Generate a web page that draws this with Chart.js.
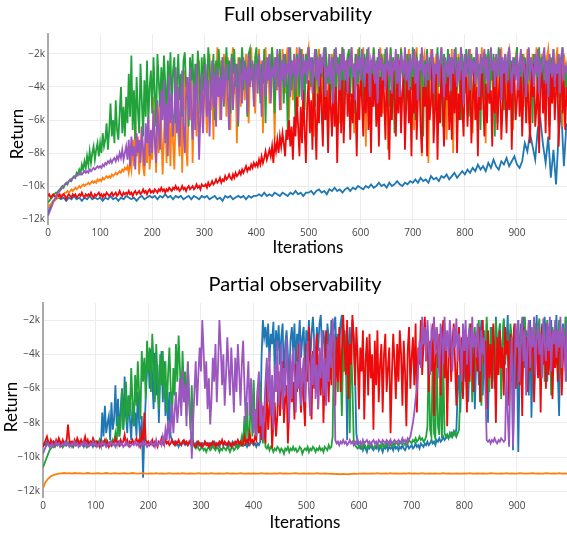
<!DOCTYPE html>
<html><head><meta charset="utf-8">
<script src="https://cdn.jsdelivr.net/npm/chart.js@4.4.1/dist/chart.umd.min.js"></script>
<style>
html,body{margin:0;padding:0;background:#fff;}
#wrap{width:567px;height:533px;position:relative;overflow:hidden;background:#fff}
.box{position:absolute;left:0;width:567px}
canvas{display:block}
</style></head><body>
<div id="wrap">
<div class="box" style="top:0;height:266px"><canvas id="c1" width="567" height="266"></canvas></div>
<div class="box" style="top:266px;height:267px"><canvas id="c2" width="567" height="267"></canvas></div>
</div>
<script>
// sample positions (iterations): smooth curves every 5, noisy curves every 2.5
const iterationsCoarse = Array.from({length: 200}, (_, i) => i * 5);
const iterationsFine = Array.from({length: 400}, (_, i) => i * 2.5);
const xTickValues = [0, 100, 200, 300, 400, 500, 600, 700, 800, 900];
const yTickValues = [-12, -10, -8, -6, -4, -2];
const seriesNames = ['blue', 'orange', 'green', 'red', 'purple'];
const seriesColors = ['#1f77b4', '#ff7f0e', '#22a23a', '#ee0a0a', '#9b56bf'];

// ---------- Full observability (returns in thousands) ----------
const topBlue = [
-11.7,-11.2,-10.9,-10.8,-10.7,-10.8,-10.7,-10.9,-10.7,-10.8,-10.6,-10.8,-10.7,-10.9,-10.7,-10.8,-10.6,-10.8,-10.7,-10.8,
-10.7,-10.9,-10.7,-10.8,-10.6,-10.8,-10.7,-10.9,-10.7,-10.8,-10.6,-10.7,-10.8,-10.7,-10.9,-10.7,-10.6,-10.8,-10.7,-10.6,
-10.7,-10.6,-10.8,-10.6,-10.7,-10.5,-10.7,-10.6,-10.8,-10.6,-10.7,-10.6,-10.8,-10.7,-10.6,-10.8,-10.6,-10.7,-10.8,-10.6,
-10.7,-10.6,-10.8,-10.7,-10.6,-10.8,-10.7,-10.9,-10.6,-10.7,-10.6,-10.8,-10.7,-10.6,-10.7,-10.6,-10.8,-10.6,-10.7,-10.6,
-10.6,-10.5,-10.6,-10.4,-10.6,-10.5,-10.6,-10.4,-10.5,-10.6,-10.4,-10.5,-10.6,-10.4,-10.5,-10.3,-10.5,-10.4,-10.6,-10.4,
-10.4,-10.3,-10.5,-10.3,-10.2,-10.4,-10.3,-10.5,-10.2,-10.3,-10.1,-10.3,-10.2,-10.4,-10.2,-10.1,-10.3,-10.1,-10.2,-10.0,
-10.1,-10.2,-10.0,-10.1,-9.9,-10.1,-10.0,-9.8,-10.0,-9.9,-10.1,-9.8,-10.0,-9.9,-9.7,-9.9,-10.0,-9.8,-9.9,-9.7,
-9.8,-9.6,-9.8,-9.5,-9.7,-9.6,-9.8,-9.4,-9.6,-9.5,-9.7,-9.4,-9.5,-9.3,-9.6,-9.4,-9.2,-9.5,-9.3,-9.1,
-9.3,-9.0,-9.2,-8.9,-9.1,-8.7,-9.0,-8.8,-9.1,-8.6,-8.9,-8.4,-8.8,-9.0,-8.5,-8.7,-8.3,-8.8,-8.5,-8.2,
-8.7,-8.9,-8.5,-7.4,-7.9,-6.8,-7.6,-8.4,-6.5,-6.0,-7.5,-8.6,-7.0,-9.5,-7.8,-9.9,-6.8,-5.4,-8.8,-6.2
];
const topOrange = [
-11.3,-11.2,-11.1,-11.0,-10.9,-10.9,-10.8,-10.7,-10.7,-10.6,
-10.6,-10.5,-10.5,-10.4,-10.4,-10.3,-10.4,-10.3,-10.2,-10.3,
-10.2,-10.1,-10.2,-10.1,-10.0,-10.1,-10.0,-9.9,-10.0,-9.9,
-9.9,-9.8,-9.9,-9.8,-9.7,-9.8,-9.7,-9.8,-9.6,-9.7,
-9.6,-9.7,-9.5,-9.6,-9.5,-9.4,-9.5,-9.4,-9.5,-9.3,
-9.4,-9.3,-9.2,-9.3,-9.2,-9.1,-9.2,-9.0,-9.1,-8.9,
-9.0,-8.8,-9.2,-8.5,-9.0,-7.2,-8.8,-5.9,-8.2,-7.0,
-9.3,-8.0,-6.4,-8.8,-9.4,-7.4,-8.6,-6.0,-9.0,-7.8,
-8.4,-4.6,-7.2,-9.2,-5.8,-8.0,-4.2,-6.6,-9.3,-7.0,
-5.0,-8.6,-3.6,-6.2,-8.8,-4.8,-7.4,-9.0,-5.4,-3.4,
-6.8,-8.2,-4.0,-9.2,-5.6,-3.0,-7.6,-8.8,-4.4,-6.0,
-2.6,-8.6,-5.2,-3.4,-7.0,-4.6,-2.4,-6.4,-3.8,-5.6,
-2.2,-4.8,-6.8,-3.2,-2.0,-5.4,-3.6,-7.2,-2.6,-4.2,
-1.6,-3.4,-6.0,-2.4,-4.6,-2.0,-3.0,-5.8,-2.2,-3.8,
-6.6,-2.4,-1.6,-4.4,-3.0,-7.4,-2.2,-3.6,-5.2,-1.7,
-3.2,-4.8,-2.0,-2.8,-6.2,-3.4,-1.6,-4.0,-2.6,-5.6,
-2.2,-3.6,-1.7,-4.6,-2.4,-6.8,-3.0,-1.6,-3.8,-2.2,
-5.0,-2.6,-1.6,-3.4,-7.2,-2.2,-4.2,-2.0,-3.0,-5.4,
-1.7,-2.8,-4.4,-2.2,-1.6,-6.0,-3.2,-2.4,-4.8,-2.0,
-3.6,-1.6,-5.2,-2.6,-3.0,-1.7,-6.4,-2.4,-3.8,-2.0,
-1.6,-4.2,-2.4,-3.0,-7.0,-2.0,-2.8,-4.6,-1.7,-3.4,
-2.2,-5.8,-2.6,-1.6,-3.6,-7.4,-2.4,-4.0,-2.0,-3.2,
-1.7,-4.8,-2.8,-2.2,-6.2,-3.0,-1.6,-4.4,-2.6,-3.6,
-2.0,-5.4,-2.4,-1.6,-3.2,-6.8,-2.2,-4.0,-1.7,-3.0,
-2.6,-4.6,-1.6,-3.4,-7.6,-2.4,-2.0,-5.0,-2.8,-3.8,
-1.7,-3.2,-6.0,-2.2,-4.2,-1.6,-2.6,-5.6,-2.0,-3.4,
-2.4,-7.8,-3.0,-1.7,-4.4,-2.2,-3.6,-6.4,-2.0,-2.8,
-4.8,-1.6,-3.2,-2.4,-5.8,-2.0,-3.8,-1.7,-4.6,-2.6,
-3.0,-6.6,-2.2,-1.6,-4.0,-2.8,-3.4,-8.2,-2.4,-2.0,
-4.4,-2.6,-8.6,-3.2,-1.7,-5.2,-2.2,-3.6,-2.0,-6.0,
-2.4,-3.0,-1.6,-4.8,-2.6,-3.4,-7.2,-2.0,-2.8,-4.2,
-1.7,-8.0,-3.0,-2.4,-5.0,-2.0,-3.6,-1.6,-4.6,-2.6,
-3.2,-2.0,-5.8,-2.4,-1.7,-3.8,-6.8,-2.2,-3.0,-4.4,
-2.0,-2.8,-5.4,-1.6,-3.4,-2.4,-7.4,-2.2,-4.0,-2.6,
-1.7,-3.6,-5.0,-2.2,-2.8,-6.2,-2.0,-3.4,-1.6,-4.8,
-2.4,-3.0,-5.6,-2.0,-1.7,-4.2,-2.6,-6.6,-3.2,-2.2,
-1.6,-4.4,-2.4,-3.0,-5.8,-2.0,-2.6,-3.6,-1.7,-6.2,
-2.2,-3.4,-2.0,-4.6,-2.8,-1.6,-5.4,-2.4,-3.2,-2.0,
-4.0,-2.6,-6.0,-2.2,-1.7,-3.4,-2.8,-5.0,-2.0,-3.6,
-2.4,-1.6,-4.6,-2.2,-3.0,-6.4,-2.0,-2.6,-3.8,-2.2
];
const topGreen = [
-11.0,-10.9,-10.8,-10.7,-10.6,-10.5,-10.4,-10.4,-10.3,-10.2,
-10.1,-10.0,-10.1,-9.9,-9.8,-9.9,-9.7,-9.6,-9.7,-9.5,
-9.4,-9.5,-9.2,-9.3,-9.0,-9.2,-8.7,-9.0,-8.5,-8.9,
-8.2,-8.7,-7.9,-8.6,-8.0,-7.6,-8.4,-7.8,-7.4,-8.2,
-7.4,-8.0,-6.8,-7.6,-7.2,-6.2,-7.8,-6.6,-5.0,-7.0,
-6.0,-7.4,-4.8,-6.6,-7.2,-5.6,-4.0,-6.8,-5.2,-7.0,
-4.6,-6.2,-3.2,-5.8,-2.1,-6.6,-4.2,-7.2,-3.4,-5.4,
-6.8,-2.6,-4.8,-7.0,-3.6,-5.8,-2.4,-6.2,-4.0,-3.0,
-5.6,-2.2,-4.4,-6.4,-2.0,-3.6,-5.2,-2.8,-4.6,-2.1,
-3.8,-6.0,-2.4,-4.2,-1.9,-5.4,-3.0,-2.2,-6.2,-3.6,
-2.0,-4.8,-3.2,-5.8,-2.4,-1.9,-4.0,-3.4,-6.4,-2.2,
-3.6,-2.0,-5.2,-2.6,-4.4,-1.8,-3.0,-5.6,-2.2,-4.2,
-2.0,-3.2,-5.0,-1.6,-2.6,-4.6,-3.4,-2.0,-6.0,-2.4,
-3.8,-1.7,-2.8,-4.4,-2.2,-5.2,-3.0,-1.6,-3.6,-2.4,
-5.6,-2.0,-3.2,-1.7,-4.0,-2.6,-6.4,-2.2,-3.4,-1.6,
-4.2,-2.4,-3.0,-5.8,-2.0,-1.7,-3.6,-2.6,-4.8,-2.2,
-1.6,-3.4,-2.2,-5.0,-2.6,-3.8,-1.7,-6.2,-2.4,-3.0,
-2.0,-4.4,-1.6,-3.2,-5.6,-2.2,-2.8,-4.0,-1.7,-3.6,
-2.4,-5.0,-2.0,-3.0,-6.6,-2.2,-1.6,-4.2,-2.6,-3.4,
-6.5,-2.0,-2.8,-4.6,-1.7,-3.2,-2.4,-5.4,-2.0,-3.6,
-1.6,-2.6,-4.0,-2.2,-3.2,-5.2,-1.7,-2.8,-4.4,-2.0,
-3.4,-2.2,-6.0,-1.6,-2.6,-3.8,-2.0,-4.8,-2.4,-3.0,
-1.7,-5.4,-2.2,-3.2,-2.0,-4.2,-1.6,-6.6,-2.6,-3.4,
-2.2,-1.7,-4.6,-2.4,-3.0,-5.6,-2.0,-2.8,-3.8,-1.6,
-3.2,-2.2,-5.0,-2.0,-4.0,-1.7,-2.6,-6.2,-2.4,-3.6,
-1.6,-2.8,-4.4,-2.2,-3.4,-5.8,-2.0,-2.6,-4.0,-1.7,
-3.0,-2.4,-5.2,-1.6,-3.6,-2.2,-6.8,-2.6,-3.2,-2.0,
-4.6,-1.7,-2.8,-3.8,-2.2,-5.4,-2.0,-3.0,-2.4,-4.2,
-1.6,-3.4,-6.0,-2.2,-2.6,-4.4,-2.0,-3.2,-7.0,-2.4,
-3.0,-1.7,-4.8,-2.2,-3.6,-2.0,-5.6,-2.6,-3.2,-1.6,
-4.0,-2.4,-3.0,-6.4,-2.0,-2.8,-4.6,-1.7,-3.4,-2.2,
-5.2,-2.6,-3.0,-1.6,-4.2,-2.2,-3.6,-6.0,-2.0,-2.8,
-4.4,-1.7,-3.2,-2.4,-5.8,-2.0,-3.0,-2.2,-4.0,-1.6,
-3.4,-2.6,-6.6,-2.2,-2.8,-4.8,-2.0,-3.2,-1.7,-5.0,
-2.4,-3.6,-2.0,-7.0,-2.6,-3.0,-1.6,-4.2,-2.2,-3.4,
-5.4,-2.0,-2.8,-4.0,-1.7,-3.2,-2.4,-6.0,-2.2,-3.0,
-1.6,-4.6,-2.6,-3.4,-2.0,-5.2,-2.2,-2.8,-4.0,-1.7,
-3.6,-2.4,-6.2,-2.0,-3.0,-2.6,-4.4,-1.6,-3.2,-2.2,
-5.0,-2.0,-2.8,-3.8,-2.4,-6.4,-2.2,-3.0,-1.7,-4.2,
-2.6,-3.4,-2.0,-5.6,-2.2,-1.6,-3.6,-2.8,-4.6,-2.4
];
const topRed = [
-10.6,-10.5,-10.7,-10.6,-10.5,-10.6,-10.7,-10.5,-10.6,-10.5,
-10.7,-10.6,-10.5,-10.6,-10.8,-10.6,-10.5,-10.6,-10.7,-10.5,
-10.6,-10.5,-10.7,-10.6,-10.5,-10.6,-10.4,-10.6,-10.7,-10.5,
-10.6,-10.5,-10.6,-10.4,-10.6,-10.7,-10.5,-10.6,-10.5,-10.4,
-10.6,-10.5,-10.7,-10.5,-10.6,-10.4,-10.5,-10.6,-10.5,-10.4,
-10.6,-10.5,-10.4,-10.6,-10.5,-10.3,-10.5,-10.6,-10.4,-10.5,
-10.4,-10.5,-10.3,-10.5,-10.4,-10.6,-10.4,-10.3,-10.5,-10.4,
-10.3,-10.5,-10.4,-10.2,-10.4,-10.3,-10.5,-10.3,-10.2,-10.4,
-10.3,-10.4,-10.2,-10.3,-10.4,-10.2,-10.3,-10.1,-10.3,-10.2,
-10.4,-10.2,-10.3,-10.1,-10.2,-10.3,-10.1,-10.2,-10.0,-10.2,
-10.1,-10.3,-10.2,-10.0,-10.2,-10.1,-10.3,-10.1,-10.0,-10.2,
-10.1,-10.0,-10.2,-10.1,-9.9,-10.1,-10.0,-10.2,-9.9,-10.0,
-10.0,-9.9,-10.1,-9.8,-10.0,-9.9,-9.7,-9.9,-9.8,-9.6,
-9.8,-9.7,-9.5,-9.8,-9.6,-9.7,-9.4,-9.6,-9.5,-9.3,
-9.5,-9.6,-9.3,-9.5,-9.2,-9.4,-9.3,-9.1,-9.3,-9.0,
-9.2,-9.0,-8.8,-9.1,-8.9,-9.0,-8.7,-8.9,-8.6,-8.8,
-8.6,-8.8,-8.4,-8.7,-8.2,-8.6,-8.3,-7.9,-8.4,-8.1,
-7.8,-8.2,-7.6,-8.6,-7.4,-7.9,-7.2,-8.0,-7.0,-7.6,
-6.8,-7.4,-8.2,-6.6,-7.2,-6.0,-7.6,-6.4,-8.4,-5.8,
-7.0,-4.6,-6.4,-8.2,-5.2,-7.4,-4.2,-6.6,-8.6,-5.0,
-3.6,-6.8,-4.8,-7.8,-3.4,-5.6,-8.4,-4.4,-6.2,-3.0,
-5.4,-7.6,-2.6,-6.0,-4.2,-8.0,-3.8,-5.2,-7.0,-3.2,
-6.4,-4.0,-8.6,-5.0,-2.8,-6.8,-3.6,-7.4,-4.6,-2.4,
-5.8,-3.4,-7.2,-4.4,-6.2,-2.6,-5.0,-8.2,-3.8,-6.0,
-2.8,-4.8,-7.0,-3.6,-5.6,-2.4,-6.6,-4.2,-8.0,-3.2,
-5.2,-2.6,-6.4,-4.0,-7.6,-3.4,-5.8,-2.8,-4.6,-7.2,
-3.0,-5.4,-8.4,-4.2,-6.0,-2.6,-4.8,-7.0,-3.6,-5.6,
-2.4,-6.8,-4.4,-3.2,-7.8,-5.0,-2.8,-6.2,-4.0,-8.2,
-3.4,-5.6,-2.6,-7.2,-4.6,-3.0,-6.4,-8.0,-4.0,-5.2,
-2.8,-8.2,-3.6,-6.0,-4.8,-2.4,-7.4,-5.4,-3.2,-8.4,
-4.4,-6.2,-2.6,-5.0,-7.6,-3.8,-4.8,-2.8,-6.6,-4.2,
-7.2,-3.2,-5.6,-2.6,-8.0,-4.4,-6.0,-3.0,-5.2,-7.0,
-3.6,-2.6,-6.4,-4.6,-3.2,-7.4,-5.0,-2.8,-6.0,-4.0,
-8.2,-3.4,-5.4,-2.6,-4.8,-7.0,-3.8,-6.2,-2.8,-5.0,
-4.2,-7.6,-3.0,-5.6,-2.6,-6.6,-4.4,-3.4,-7.2,-5.2,
-2.8,-4.6,-6.8,-3.6,-5.4,-2.6,-7.8,-4.0,-3.2,-6.0,
-4.8,-2.8,-5.8,-3.4,-7.0,-4.2,-2.6,-6.2,-3.8,-5.0,
-7.4,-3.0,-4.6,-2.6,-6.4,-5.2,-3.4,-8.0,-4.0,-2.8,
-5.6,-3.6,-6.8,-2.6,-4.4,-7.2,-3.2,-5.0,-2.8,-6.0,
-4.2,-3.0,-7.6,-4.8,-2.6,-5.6,-3.6,-6.6,-4.0,-5.2
];
const topPurple = [
-11.8,-11.6,-11.4,-11.2,-11.0,-10.8,-10.7,-10.5,-10.4,-10.3,
-10.2,-10.1,-10.0,-9.9,-9.9,-9.8,-9.7,-9.7,-9.6,-9.5,
-9.5,-9.4,-9.4,-9.3,-9.3,-9.2,-9.3,-9.2,-9.1,-9.2,
-9.1,-9.2,-9.0,-9.1,-9.0,-8.9,-9.0,-8.9,-8.8,-8.9,
-8.8,-8.9,-8.7,-8.8,-8.6,-8.7,-8.5,-8.6,-8.4,-8.6,
-8.4,-8.3,-8.5,-8.2,-8.4,-8.0,-8.3,-7.8,-8.4,-8.0,
-7.6,-8.4,-7.2,-8.8,-7.0,-8.2,-7.6,-9.0,-6.8,-8.0,
-7.2,-8.6,-6.4,-7.8,-8.8,-6.2,-7.4,-5.8,-8.2,-6.6,
-8.0,-5.4,-7.2,-8.6,-4.8,-6.6,-7.8,-4.2,-6.0,-3.6,
-7.4,-5.0,-8.2,-3.2,-6.2,-4.4,-7.0,-5.6,-2.8,-6.8,
-4.0,-7.6,-5.2,-3.0,-6.4,-8.0,-4.6,-3.4,-6.0,-2.8,
-5.4,-7.2,-3.8,-6.6,-2.6,-4.8,-8.4,-5.6,-3.2,-6.8,
-4.2,-2.6,-5.8,-3.6,-7.0,-4.4,-2.4,-5.2,-3.2,-6.4,
-2.8,-4.6,-3.4,-6.0,-2.2,-5.0,-3.6,-2.6,-4.4,-6.6,
-3.0,-2.2,-5.4,-3.8,-2.6,-4.2,-6.2,-2.4,-3.4,-5.0,
-2.2,-3.6,-2.8,-5.6,-2.0,-4.0,-3.0,-2.4,-5.2,-3.2,
-2.6,-4.4,-2.0,-3.4,-5.8,-2.4,-3.0,-4.6,-2.2,-3.6,
-2.0,-5.0,-2.8,-3.4,-2.2,-4.2,-1.7,-3.0,-5.4,-2.4,
-3.6,-2.0,-4.0,-2.6,-3.2,-1.6,-4.6,-2.4,-3.0,-2.0,
-4.2,-2.2,-3.4,-1.6,-2.8,-4.8,-2.0,-3.2,-2.4,-3.8,
-1.6,-3.0,-2.2,-4.4,-2.6,-1.7,-3.6,-2.2,-4.0,-2.0,
-3.2,-2.4,-1.6,-4.6,-2.8,-3.4,-2.0,-3.8,-2.2,-5.0,
-2.4,-1.6,-3.2,-2.6,-4.2,-2.0,-3.0,-1.7,-3.6,-2.4,
-4.4,-2.2,-2.8,-1.6,-3.4,-2.6,-4.8,-2.0,-3.0,-2.2,
-3.6,-1.7,-2.6,-4.0,-2.2,-3.2,-1.6,-4.6,-2.4,-2.8,
-2.0,-3.8,-2.4,-5.0,-1.7,-3.0,-2.2,-3.6,-2.6,-4.2,
-1.6,-2.8,-3.4,-2.0,-4.4,-2.4,-3.0,-1.7,-3.8,-2.2,
-4.6,-2.0,-2.8,-3.2,-1.6,-3.6,-2.4,-4.2,-2.0,-3.0,
-2.6,-1.7,-3.8,-2.2,-4.8,-2.4,-3.0,-1.6,-3.4,-2.6,
-4.0,-2.0,-2.8,-3.6,-2.2,-1.7,-4.4,-2.6,-3.2,-2.0,
-3.8,-2.4,-1.6,-3.0,-4.6,-2.2,-2.8,-3.4,-2.0,-4.2,
-2.2,-3.2,-1.7,-2.6,-4.0,-2.4,-3.6,-1.6,-2.8,-5.0,
-2.0,-3.4,-2.6,-1.7,-4.2,-2.2,-3.0,-2.4,-3.8,-1.6,
-2.8,-4.6,-2.0,-3.2,-2.4,-1.7,-3.6,-2.2,-4.4,-2.6,
-1.6,-3.0,-2.4,-4.0,-2.0,-3.4,-2.6,-1.7,-4.8,-2.2,
-3.2,-2.0,-3.8,-2.4,-1.6,-3.0,-4.4,-2.2,-2.8,-3.6,
-2.0,-4.2,-2.6,-1.7,-3.4,-2.2,-3.0,-4.6,-2.4,-1.6,
-3.6,-2.2,-2.8,-4.0,-2.0,-3.2,-1.7,-4.4,-2.6,-3.0,
-2.2,-1.6,-3.8,-2.4,-4.6,-2.0,-2.8,-3.4,-1.7,-4.0,
-2.6,-3.2,-2.0,-4.4,-2.2,-1.6,-3.6,-2.8,-3.0,-2.4
];

// ---------- Partial observability (returns in thousands) ----------
const botBlue = [
-9.4,-9.2,-9.3,-9.1,-9.2,-9.4,-9.2,-9.3,-9.1,-9.2,
-9.3,-9.2,-9.0,-9.3,-9.2,-9.4,-9.2,-9.1,-9.3,-9.2,
-9.1,-9.3,-9.2,-9.4,-9.2,-9.3,-9.1,-9.2,-9.3,-9.1,
-9.2,-9.4,-9.2,-9.3,-9.1,-9.2,-9.3,-9.2,-9.4,-9.2,
-9.3,-9.1,-9.2,-9.0,-9.3,-7.4,-8.8,-7.0,-8.6,-8.0,
-7.6,-9.0,-6.8,-8.4,-7.8,-5.8,-8.2,-6.6,-8.8,-7.2,
-6.0,-8.4,-5.3,-7.6,-8.6,-6.4,-7.8,-9.0,-6.8,-8.2,
-7.4,-8.8,-6.2,-8.0,-9.2,-7.6,-11.2,-8.6,-6.6,-5.0,
-4.2,-6.0,-3.7,-5.4,-7.2,-3.9,-6.4,-4.6,-8.0,-5.2,
-3.8,-6.8,-4.4,-7.6,-5.6,-8.4,-6.2,-8.8,-9.0,-9.2,
-9.1,-9.3,-9.2,-9.4,-9.2,-9.3,-9.1,-9.2,-9.3,-9.2,
-9.3,-9.1,-9.2,-9.4,-9.2,-9.3,-9.2,-9.1,-9.3,-9.2,
-9.4,-9.2,-9.3,-9.1,-9.2,-9.3,-9.2,-9.4,-9.2,-9.3,
-9.1,-9.2,-9.3,-9.2,-9.4,-9.2,-9.1,-9.3,-9.2,-9.3,
-9.2,-9.4,-9.2,-9.3,-9.1,-9.2,-9.3,-9.2,-9.4,-9.2,
-9.3,-9.1,-9.2,-9.3,-9.2,-9.4,-9.2,-9.3,-9.1,-9.2,
-9.3,-9.2,-9.4,-9.2,-9.3,-9.1,-4.2,-2.0,-3.0,-2.4,
-3.6,-2.2,-4.4,-2.8,-3.4,-2.1,-5.0,-2.6,-3.8,-2.3,
-4.6,-3.0,-2.2,-5.6,-3.4,-2.6,-4.0,-6.0,-3.2,-2.4,
-3.8,-2.2,-4.8,-2.8,-3.4,-2.0,-4.2,-3.0,-2.4,-5.2,
-2.6,-3.6,-2.0,-4.4,-2.8,-1.8,-3.2,-5.4,-2.4,-3.8,
-2.2,-1.7,-4.0,-2.6,-3.4,-5.8,-2.2,-3.0,-4.6,-2.0,
-3.2,-2.4,-1.8,-4.2,-2.8,-3.6,-2.2,-1.7,-5.0,-2.6,
-3.4,-9.0,-3.8,-2.4,-4.4,-2.0,-3.0,-5.2,-8.6,-9.2,
-9.4,-9.5,-9.3,-9.6,-9.4,-9.5,-9.7,-9.4,-9.5,-9.3,
-9.5,-9.6,-9.4,-9.5,-9.3,-9.6,-9.4,-9.5,-9.7,-9.4,
-9.5,-9.3,-9.6,-9.4,-9.5,-9.4,-9.6,-9.3,-9.5,-9.4,
-9.6,-9.4,-9.5,-9.3,-9.5,-9.6,-9.4,-9.3,-9.5,-9.4,
-9.3,-9.5,-9.4,-9.2,-9.4,-9.3,-9.5,-9.2,-9.3,-9.4,
-9.2,-9.3,-9.1,-9.3,-9.2,-9.0,-9.2,-9.1,-9.3,-9.0,
-9.1,-8.9,-9.1,-9.0,-8.8,-9.0,-8.9,-8.7,-8.9,-8.8,
-8.6,-8.8,-8.5,-8.7,-8.4,-6.0,-5.2,-7.4,-4.6,-6.4,
-3.8,-5.6,-3.0,-6.8,-4.2,-2.4,-5.0,-3.4,-7.2,-4.4,
-2.6,-5.8,-3.2,-2.0,-6.4,-3.8,-4.8,-2.2,-8.0,-3.4,
-5.2,-2.4,-3.6,-6.0,-1.8,-4.4,-3.0,-2.2,-5.6,-3.2,
-2.0,-4.6,-3.4,-1.7,-5.8,-2.6,-3.8,-9.6,-2.4,-4.2,
-3.0,-9.7,-5.0,-2.2,-3.6,-1.8,-4.8,-2.6,-3.2,-6.4,
-2.0,-7.7,-4.0,-2.4,-3.4,-1.7,-5.2,-2.8,-3.6,-2.2,
-4.4,-1.8,-3.0,-5.6,-2.4,-3.8,-2.0,-4.6,-2.6,-3.2,
-1.7,-5.0,-7.6,-2.8,-3.6,-2.2,-4.2,-1.8,-3.4,-2.6
];
const botOrange = [
-11.8,-11.45,-11.25,-11.12,-11.05,-11.0,-10.97,-10.95,-10.93,-10.95,-10.94,-10.96,-10.93,-10.95,-10.94,-10.96,-10.95,-10.93,-10.95,-10.96,
-10.95,-10.94,-10.96,-10.95,-10.93,-10.95,-10.96,-10.94,-10.95,-10.97,-10.95,-10.94,-10.96,-10.95,-10.93,-10.95,-10.96,-10.95,-10.94,-10.96,
-10.96,-10.95,-10.97,-10.94,-10.96,-10.95,-10.97,-10.96,-10.94,-10.96,-10.97,-10.95,-10.96,-10.94,-10.97,-10.96,-10.95,-10.97,-10.96,-10.94,
-10.96,-10.97,-10.95,-10.96,-10.94,-10.97,-10.96,-10.95,-10.97,-10.96,-10.94,-10.96,-10.95,-10.97,-10.96,-10.94,-10.96,-10.97,-10.95,-10.96,
-10.95,-10.97,-10.96,-10.94,-10.96,-10.95,-10.97,-10.96,-10.95,-10.97,-10.94,-10.96,-10.95,-10.97,-10.96,-10.95,-10.94,-10.96,-10.97,-10.95,
-10.96,-10.95,-10.97,-10.96,-10.94,-10.96,-10.97,-10.95,-10.96,-10.98,-10.97,-10.99,-10.98,-11.0,-10.98,-10.99,-11.0,-10.98,-10.97,-10.98,
-10.96,-10.97,-10.95,-10.96,-10.97,-10.95,-10.96,-10.94,-10.96,-10.97,-10.95,-10.96,-10.94,-10.96,-10.95,-10.97,-10.96,-10.95,-10.96,-10.94,
-10.96,-10.95,-10.97,-10.96,-10.94,-10.96,-10.97,-10.95,-10.96,-10.95,-10.97,-10.96,-10.94,-10.96,-10.95,-10.97,-10.96,-10.95,-10.96,-10.97,
-10.95,-10.96,-10.94,-10.96,-10.97,-10.95,-10.96,-10.95,-10.97,-10.96,-10.94,-10.95,-10.96,-10.97,-10.95,-10.96,-10.94,-10.96,-10.95,-10.97,
-10.96,-10.94,-10.95,-10.96,-10.97,-10.95,-10.94,-10.96,-10.95,-10.97,-10.96,-10.94,-10.95,-10.96,-10.95,-10.97,-10.94,-10.96,-10.95,-10.96
];
const botGreen = [
-10.6,-10.4,-10.2,-10.0,-9.8,-9.6,-9.5,-9.4,-9.3,-9.4,
-9.2,-9.3,-9.1,-9.3,-9.2,-9.4,-9.2,-9.3,-9.1,-9.2,
-9.3,-9.2,-9.4,-9.2,-9.1,-9.3,-9.2,-9.3,-9.1,-9.2,
-9.3,-9.1,-9.2,-9.4,-9.2,-9.3,-9.1,-9.2,-9.3,-9.2,
-9.1,-9.3,-9.2,-9.0,-9.2,-9.3,-9.1,-9.2,-9.0,-9.3,
-9.2,-9.1,-9.3,-9.0,-9.2,-8.6,-9.1,-7.6,-8.8,-8.2,
-6.0,-8.4,-7.2,-5.6,-8.0,-6.4,-7.6,-4.8,-6.8,-8.2,
-5.2,-7.0,-4.4,-6.2,-7.8,-3.8,-5.6,-4.2,-6.6,-3.2,
-5.0,-3.6,-6.2,-2.8,-4.6,-6.8,-3.4,-5.4,-7.2,-4.0,
-5.8,-3.8,-6.6,-4.4,-7.4,-5.2,-3.6,-6.0,-8.0,-4.8,
-6.4,-3.4,-5.6,-2.9,-4.8,-7.0,-3.8,-6.2,-5.0,-7.6,
-4.4,-6.8,-8.4,-5.8,-9.2,-9.4,-9.5,-9.3,-9.5,-9.6,
-9.5,-9.4,-9.6,-9.5,-9.7,-9.5,-9.4,-9.6,-9.5,-9.3,
-9.5,-9.6,-9.4,-9.5,-9.7,-9.5,-9.6,-9.4,-9.5,-9.6,
-9.4,-9.5,-9.7,-9.5,-9.4,-9.6,-9.5,-9.3,-9.5,-9.4,
-9.2,-8.8,-9.4,-7.6,-9.0,-6.8,-9.2,-8.4,-6.0,-8.8,
-5.5,-8.2,-9.0,-6.4,-8.6,-5.6,-7.8,-9.2,-8.0,-9.4,
-9.5,-9.3,-9.6,-9.4,-9.5,-9.7,-9.5,-9.6,-9.4,-9.5,
-9.7,-9.5,-9.6,-9.8,-9.5,-9.6,-9.4,-9.7,-9.5,-9.6,
-9.4,-9.6,-9.5,-9.7,-9.6,-9.4,-9.5,-9.8,-9.6,-9.5,
-9.6,-9.4,-9.7,-9.5,-9.6,-9.4,-9.5,-9.7,-9.5,-9.6,
-9.4,-9.6,-9.5,-9.7,-9.4,-9.5,-9.6,-9.3,-9.5,-9.4,
-8.8,-2.8,-5.4,-3.4,-6.2,-3.0,-4.6,-7.6,-3.6,-5.0,
-2.9,-6.4,-4.2,-8.6,-3.2,-5.8,-9.0,-9.3,-9.4,-9.5,
-9.4,-9.3,-9.5,-9.4,-9.2,-9.4,-9.5,-9.3,-9.4,-9.2,
-9.3,-9.5,-9.4,-9.3,-9.2,-9.4,-9.3,-9.5,-9.2,-9.3,
-9.4,-9.2,-9.3,-9.1,-9.3,-9.4,-9.2,-9.3,-9.1,-9.2,
-9.3,-9.1,-9.2,-9.0,-9.2,-9.3,-9.1,-9.2,-9.0,-9.1,
-9.2,-9.0,-9.1,-8.9,-9.1,-9.0,-8.8,-9.0,-8.9,-9.1,
-9.0,-8.8,-8.2,-3.8,-8.4,-8.8,-4.2,-8.6,-8.9,-3.9,
-8.2,-8.7,-5.0,-8.9,-4.4,-8.6,-8.8,-8.7,-8.9,-8.6,
-8.8,-8.6,-8.7,-8.5,-8.8,-8.6,-8.4,-6.0,-4.0,-5.4,
-2.6,-4.4,-3.2,-5.8,-2.2,-3.6,-6.8,-4.0,-2.4,-5.0,
-3.0,-2.0,-4.6,-7.0,-3.4,-2.6,-5.4,-1.8,-3.8,-6.2,
-2.4,-4.2,-3.0,-5.6,-2.0,-3.4,-4.8,-2.2,-6.6,-3.6,
-1.9,-4.4,-2.8,-3.6,-5.2,-2.2,-3.0,-4.0,-2.4,-6.0,
-3.2,-2.0,-4.6,-2.6,-5.4,-3.0,-1.8,-4.2,-2.8,-3.6,
-5.0,-2.4,-3.4,-6.2,-2.2,-4.0,-2.8,-1.9,-4.8,-3.2,
-2.6,-5.6,-3.6,-2.0,-4.4,-3.0,-6.4,-2.4,-3.8,-2.2,
-4.6,-3.0,-2.0,-5.2,-3.6,-2.4,-4.0,-1.8,-5.6,-3.2
];
const botRed = [
-9.4,-9.2,-9.0,-8.8,-9.1,-9.3,-9.0,-9.2,-9.1,-9.3,
-9.0,-9.2,-8.9,-9.1,-9.3,-9.0,-9.2,-9.1,-9.0,-8.1,
-9.0,-9.2,-9.1,-9.3,-9.0,-9.2,-8.9,-9.1,-9.3,-9.0,
-9.2,-9.1,-8.8,-9.2,-9.0,-9.3,-9.1,-9.2,-8.9,-9.1,
-9.3,-9.1,-9.2,-9.4,-9.1,-9.3,-9.2,-9.0,-9.3,-9.1,
-9.4,-9.2,-9.3,-9.1,-9.2,-8.9,-9.2,-9.1,-9.3,-9.0,
-9.2,-9.1,-8.7,-9.2,-9.0,-9.3,-9.1,-9.2,-9.0,-9.2,
-9.1,-8.9,-9.2,-9.0,-9.3,-8.6,-9.1,-7.4,-9.0,-9.2,
-9.1,-9.3,-9.2,-9.0,-9.3,-9.1,-9.2,-9.4,-9.1,-9.2,
-8.9,-9.2,-9.3,-9.0,-9.2,-9.1,-9.3,-9.2,-9.0,-9.2,
-9.3,-9.1,-9.2,-9.0,-9.2,-9.3,-9.1,-9.0,-9.2,-9.1,
-9.3,-9.2,-9.0,-9.2,-9.1,-9.3,-9.4,-9.2,-9.1,-9.3,
-9.2,-9.4,-9.3,-9.1,-9.3,-9.2,-9.4,-9.2,-9.3,-9.1,
-9.2,-9.4,-9.2,-9.3,-9.1,-9.2,-9.0,-9.3,-9.1,-9.2,
-9.3,-9.1,-9.2,-9.4,-9.2,-9.3,-9.1,-9.2,-9.0,-9.2,
-9.1,-9.3,-9.2,-8.8,-9.2,-9.0,-9.2,-8.6,-9.1,-9.0,
-9.2,-8.8,-9.0,-6.1,-8.6,-7.4,-9.0,-7.0,-8.2,-9.2,
-5.5,-8.4,-7.2,-6.2,-9.5,-8.0,-6.8,-8.8,-7.6,-5.0,
-7.6,-6.0,-4.4,-8.0,-6.6,-5.8,-9.2,-7.2,-4.4,-6.8,
-5.6,-7.8,-4.6,-6.2,-3.4,-5.8,-7.4,-4.8,-6.6,-8.2,
-3.4,-5.6,-2.4,-4.8,-7.8,-3.8,-6.0,-5.0,-2.8,-7.2,
-4.0,-6.4,-3.2,-8.0,-5.4,-2.6,-4.6,-6.8,-3.6,-5.8,
-2.2,-4.4,-7.0,-3.0,-5.6,-2.4,-6.2,-4.0,-1.7,-3.6,
-5.2,-2.0,-6.6,-3.4,-4.6,-1.7,-3.0,-5.8,-2.4,-4.2,
-7.2,-3.6,-5.0,-2.6,-7.8,-4.4,-3.0,-6.4,-2.8,-5.4,
-4.0,-8.4,-3.2,-5.8,-2.6,-6.8,-4.6,-3.4,-7.4,-4.0,
-2.8,-6.2,-4.8,-3.6,-8.6,-5.2,-2.8,-4.4,-6.6,-3.4,
-5.6,-2.6,-4.0,-7.0,-3.2,-5.0,-8.2,-3.8,-2.4,-6.0,
-4.2,-3.0,-5.8,-2.2,-7.4,-3.6,-4.6,-2.0,-5.2,-3.4,
-1.8,-4.4,-2.6,-6.2,-3.2,-5.0,-2.2,-7.6,-3.8,-2.4,
-4.8,-2.8,-6.4,-3.4,-2.0,-5.4,-3.0,-8.2,-4.2,-2.6,
-5.6,-3.2,-2.2,-4.6,-7.0,-3.6,-2.4,-5.2,-3.0,-6.6,
-2.6,-4.4,-7.4,-3.0,-5.6,-2.2,-4.0,-6.2,-2.8,-3.6,
-5.0,-2.4,-6.8,-3.8,-2.0,-4.6,-3.2,-7.2,-2.6,-5.4,
-3.4,-6.0,-2.2,-4.2,-8.0,-3.0,-5.2,-2.6,-4.8,-3.6,
-6.4,-2.4,-4.0,-3.2,-7.0,-2.8,-5.6,-3.8,-2.2,-6.0,
-4.4,-2.6,-5.8,-3.4,-7.6,-2.4,-4.2,-3.0,-6.2,-2.2,
-5.0,-3.6,-2.6,-6.8,-4.0,-2.8,-5.4,-3.2,-7.4,-2.4,
-4.6,-3.0,-6.0,-2.2,-5.2,-3.8,-2.6,-6.6,-3.4,-4.8,
-2.8,-5.6,-3.6,-2.4,-6.4,-4.2,-3.0,-5.0,-2.6,-4.4
];
const botPurple = [
-9.8,-9.6,-9.4,-9.3,-9.2,-9.4,-9.3,-9.2,-9.4,-9.3,
-9.1,-9.3,-9.2,-9.4,-9.3,-9.2,-9.3,-9.1,-9.3,-9.2,
-9.4,-9.3,-9.2,-9.3,-9.1,-9.3,-9.2,-9.4,-9.3,-9.2,
-9.3,-9.1,-9.3,-9.2,-9.4,-9.3,-9.2,-9.3,-9.1,-9.3,
-9.2,-9.4,-9.3,-9.2,-9.3,-9.1,-9.3,-9.2,-9.4,-9.3,
-9.2,-9.3,-9.1,-9.3,-9.2,-9.4,-9.2,-9.3,-9.1,-9.3,
-9.2,-9.4,-9.3,-9.1,-9.3,-9.2,-9.4,-9.3,-9.2,-9.3,
-9.1,-9.3,-9.2,-9.4,-9.2,-9.3,-9.1,-9.3,-9.2,-9.4,
-9.3,-9.2,-9.1,-9.3,-9.2,-9.4,-9.0,-9.3,-9.2,-9.1,
-9.3,-8.8,-9.2,-8.4,-9.0,-7.8,-8.8,-8.2,-6.9,-8.6,
-7.4,-6.2,-8.0,-7.0,-5.4,-7.6,-4.9,-6.8,-5.8,-8.2,
-4.5,-6.4,-7.8,-10.1,-8.0,-6.2,-4.4,-7.0,-5.2,-3.6,
-5.0,-2.0,-3.8,-6.0,-4.4,-7.2,-5.4,-8.1,-6.6,-4.2,
-5.6,-3.4,-6.8,-4.6,-2.0,-3.6,-5.8,-4.0,-7.0,-5.2,
-3.0,-4.8,-6.4,-3.6,-5.4,-7.4,-4.2,-6.2,-3.4,-5.0,
-7.0,-4.6,-3.2,-5.8,-8.0,-6.0,-4.4,-7.6,-5.4,-6.8,
-8.6,-7.2,-8.8,-6.0,-5.0,-8.2,-6.8,-9.0,-7.4,-5.6,
-4.2,-6.8,-3.8,-7.6,-5.2,-8.4,-4.6,-6.2,-3.2,-7.0,
-5.8,-3.4,-7.2,-4.8,-6.4,-3.0,-5.4,-8.0,-4.0,-6.6,
-3.6,-5.0,-7.4,-4.4,-6.0,-3.2,-7.0,-5.2,-4.2,-6.8,
-4.8,-3.2,-6.2,-7.6,-4.0,-5.8,-3.0,-6.6,-4.6,-7.2,
-3.6,-5.4,-2.6,-6.4,-4.2,-7.0,-3.4,-5.6,-2.8,-4.8,
-1.9,-3.2,-9.0,-9.2,-9.1,-9.3,-9.1,-9.2,-9.0,-9.2,
-9.1,-9.3,-9.2,-9.0,-9.2,-9.1,-9.3,-9.1,-9.2,-9.0,
-9.2,-9.1,-9.3,-9.0,-9.2,-9.1,-9.0,-9.2,-9.1,-9.3,
-9.1,-9.0,-9.2,-9.1,-9.3,-9.0,-9.1,-9.2,-9.0,-9.1,
-9.2,-9.0,-9.1,-9.3,-9.0,-9.2,-9.1,-9.0,-9.2,-9.1,
-9.0,-9.2,-9.1,-8.9,-9.1,-9.0,-9.2,-8.9,-9.0,-8.8,
-8.4,-8.0,-7.4,-6.6,-6.0,-4.6,-3.2,-4.8,-1.8,-3.4,
-2.4,-4.4,-2.0,-3.6,-5.2,-2.6,-3.0,-1.8,-4.0,-2.4,
-3.4,-5.4,-2.2,-3.0,-4.6,-1.8,-3.8,-2.6,-4.2,-2.0,
-3.2,-5.0,-2.4,-3.6,-1.9,-4.4,-2.8,-3.4,-5.6,-2.2,
-3.8,-2.0,-4.6,-3.0,-2.4,-5.2,-1.8,-3.6,-2.8,-4.2,
-2.2,-3.4,-5.0,-2.6,-4.0,-3.0,-6.0,-9.0,-9.1,-9.0,
-9.2,-9.0,-9.1,-8.9,-9.1,-9.2,-9.0,-9.1,-8.9,-9.0,
-9.1,-9.0,-4.8,-7.6,-9.4,-5.0,-3.0,-9.4,-6.4,-2.2,
-3.6,-2.0,-5.6,-3.0,-1.8,-4.4,-2.6,-6.4,-3.4,-2.0,
-4.8,-2.4,-3.6,-1.8,-5.2,-3.0,-2.2,-4.0,-2.8,-5.4,
-1.9,-3.2,-4.4,-2.2,-3.8,-1.8,-5.0,-2.6,-3.4,-2.0,
-4.2,-2.6,-3.6,-1.8,-4.8,-2.4,-3.0,-5.6,-2.2,-3.4
];

const fmtK = v => (v < 0 ? '\u2212' : '') + Math.abs(v) + 'k';

const textPlugin = {
  id: 'texts',
  afterDraw(chart, args, opts) {
    const ctx = chart.ctx;
    (opts.items || []).forEach(t => {
      ctx.save();
      ctx.font = t.font;
      ctx.fillStyle = '#000';
      ctx.textAlign = 'center';
      ctx.textBaseline = 'middle';
      ctx.translate(t.x, t.y);
      if (t.rot) ctx.rotate(t.rot);
      ctx.fillText(t.text, 0, 0);
      ctx.restore();
    });
  }
};

function makeChart(id, series, cfg) {
  const datasets = series.map((vals, k) => {
    const xs = vals.length === iterationsFine.length ? iterationsFine : iterationsCoarse;
    return {
      label: seriesNames[k],
      data: vals.map((v, i) => ({x: xs[i], y: v})),
      borderColor: seriesColors[k],
      borderWidth: 1.8,
      pointRadius: 0,
      tension: 0,
      fill: false,
      order: series.length - k
    };
  });
  return new Chart(document.getElementById(id), {
    type: 'line',
    data: {datasets},
    plugins: [textPlugin],
    options: {
      responsive: false,
      animation: false,
      devicePixelRatio: 1,
      layout: {padding: {top: cfg.padTop, right: 0, bottom: 0, left: 0}},
      plugins: {
        legend: {display: false},
        tooltip: {enabled: false},
        title: {display: false},
        texts: {items: cfg.texts}
      },
      scales: {
        x: {
          type: 'linear', min: 0, max: cfg.xMax,
          afterBuildTicks: s => { s.ticks = xTickValues.map(v => ({value: v})); },
          afterFit: s => { s.height = cfg.xHeight; },
          grid: {color: '#ececec', lineWidth: 1, drawTicks: false},
          border: {display: false},
          ticks: {color: '#444', font: {family: 'Open Sans', size: 10}, padding: 3, maxRotation: 0, autoSkip: false}
        },
        y: {
          type: 'linear', min: cfg.yMin, max: cfg.yMax,
          afterBuildTicks: s => { s.ticks = yTickValues.map(v => ({value: v})); },
          afterFit: s => { s.width = cfg.yWidth; },
          grid: {color: '#ececec', lineWidth: 1, drawTicks: false},
          border: {display: true, color: '#aaaaaa', width: 2},
          ticks: {color: '#444', font: {family: 'Open Sans', size: 10}, padding: 3, callback: fmtK}
        }
      }
    }
  });
}

makeChart('c1', [topBlue, topOrange, topGreen, topRed, topPurple], {
  padTop: 34, xHeight: 42, yWidth: 48, xMax: 996, yMin: -12.3, yMax: -0.79,
  texts: [
    {text: 'Full observability', x: 298, y: 15, font: '20px Lato'},
    {text: 'Iterations', x: 308, y: 248, font: '17px Lato'},
    {text: 'Return', x: 18, y: 134, font: '17px Lato', rot: -Math.PI / 2}
  ]
});
makeChart('c2', [botBlue, botOrange, botGreen, botRed, botPurple], {
  padTop: 37, xHeight: 36, yWidth: 43, xMax: 995, yMin: -12.33, yMax: -1.0,
  texts: [
    {text: 'Partial observability', x: 295, y: 19, font: '20px Lato'},
    {text: 'Iterations', x: 305, y: 257, font: '17px Lato'},
    {text: 'Return', x: 12, y: 141, font: '17px Lato', rot: -Math.PI / 2}
  ]
});
</script>
</body></html>
